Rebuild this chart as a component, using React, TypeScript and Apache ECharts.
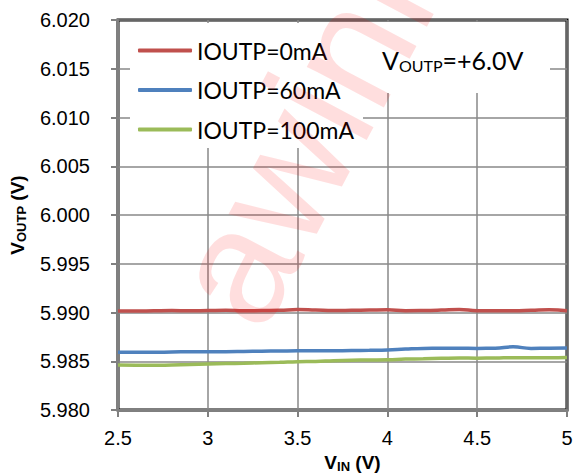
import React, { useEffect, useRef } from "react";
import * as echarts from "echarts";

const vin = [2.5, 2.6, 2.7, 2.8, 2.9, 3.0, 3.1, 3.2, 3.3, 3.4, 3.5, 3.6, 3.7, 3.8, 3.9, 4.0, 4.1, 4.2, 4.3, 4.4, 4.5, 4.6, 4.7, 4.8, 4.9, 5.0];
const iout0 = [5.99015, 5.99015, 5.99018, 5.9902, 5.99018, 5.9902, 5.99022, 5.99018, 5.9902, 5.99022, 5.9903, 5.99025, 5.9902, 5.99022, 5.99025, 5.99028, 5.99018, 5.9902, 5.99025, 5.99032, 5.99018, 5.99018, 5.99018, 5.99022, 5.99028, 5.99018];
const iout60 = [5.98592, 5.98592, 5.98592, 5.98595, 5.98597, 5.98598, 5.98598, 5.986, 5.98603, 5.98605, 5.98607, 5.98607, 5.98608, 5.9861, 5.98612, 5.98615, 5.98625, 5.98632, 5.98633, 5.98633, 5.98632, 5.98633, 5.98648, 5.98632, 5.98633, 5.98635];
const iout100 = [5.98462, 5.9846, 5.98458, 5.98462, 5.98466, 5.98472, 5.98476, 5.9848, 5.98485, 5.9849, 5.98496, 5.98498, 5.98505, 5.9851, 5.98513, 5.98516, 5.98522, 5.98526, 5.9853, 5.98533, 5.98532, 5.98533, 5.98537, 5.98535, 5.98535, 5.98538];
const seriesNames = ["IOUTP=0mA", "IOUTP=60mA", "IOUTP=100mA"];
const seriesColors = ["#C0504D", "#4F81BD", "#9BBB59"];

export default function App() {
  const ref = useRef<HTMLDivElement>(null);
  useEffect(() => {
    if (!ref.current) return;
    const chart = echarts.init(ref.current, undefined, { renderer: "svg" });
    const data = [iout0, iout60, iout100];
    const axisFont = { fontFamily: "Liberation Sans", fontSize: 20, color: "#000" };
    chart.setOption({
      animation: false,
      backgroundColor: "#fff",
      grid: {
        left: 118, right: 8, top: 20, bottom: 64,
        outerBoundsMode: "none",
        containLabel: false,
        show: true, borderColor: "#000", borderWidth: 3,
      },
      legend: {
        orient: "vertical",
        left: 130,
        top: 23,
        padding: [16, 9, 7, 8],
        backgroundColor: "#fff",
        itemWidth: 54,
        itemHeight: 4,
        itemGap: 16.5,
        icon: "roundRect",
        data: seriesNames,
        textStyle: { fontFamily: "Lato", fontSize: 23, color: "#000", lineHeight: 22 },
      },
      xAxis: {
        type: "value",
        min: 2.5,
        max: 5,
        interval: 0.5,
        axisLine: { lineStyle: { color: "#808080", width: 2 } },
        axisTick: { show: true, length: 7, lineStyle: { color: "#808080", width: 2 } },
        splitLine: { show: true, lineStyle: { color: "#888", width: 1.5 } },
        axisLabel: { ...axisFont, margin: 18 },
        name: "{v|V}{s|IN}{v| (V)}",
        nameLocation: "middle",
        nameGap: 40,
        nameTextStyle: {
          padding: [0, 0, 0, 20],
          rich: {
            v: { fontFamily: "Liberation Sans", fontWeight: "bold", fontSize: 19, color: "#000" },
            s: { fontFamily: "Liberation Sans", fontWeight: "bold", fontSize: 13, color: "#000", padding: [9, 0, 0, 0] },
          },
        },
      },
      yAxis: {
        type: "value",
        min: 5.98,
        max: 6.02,
        interval: 0.005,
        axisLine: { show: true, lineStyle: { color: "#808080", width: 2 } },
        axisTick: { show: true, length: 7, lineStyle: { color: "#808080", width: 2 } },
        splitLine: { show: true, lineStyle: { color: "#888", width: 1.5 } },
        axisLabel: { ...axisFont, margin: 28, formatter: (v: number) => v.toFixed(3) },
        name: "{v|V}{s|OUTP}{v| (V)}",
        nameLocation: "middle",
        nameRotate: 90,
        nameGap: 90,
        nameTextStyle: {
          rich: {
            v: { fontFamily: "Liberation Sans", fontWeight: "bold", fontSize: 19, color: "#000" },
            s: { fontFamily: "Liberation Sans", fontWeight: "bold", fontSize: 13, color: "#000", padding: [9, 0, 0, 0] },
          },
        },
      },
      graphic: [
        {
          type: "rect",
          z: 1,
          silent: true,
          shape: { x: 362, y: 22, width: 188, height: 71 },
          style: { fill: "#fff" },
        },
        {
          type: "text",
          z: 5,
          x: 382,
          y: 60,
          style: {
            text: "{a|V}{b|OUTP}{a|=+6.0V}",
            verticalAlign: "middle",
            rich: {
              a: { fontFamily: "Lato", fontSize: 25, fill: "#000", lineHeight: 30 },
              b: { fontFamily: "Lato", fontSize: 16, fill: "#000", padding: [10, 0, 0, 0] },
            },
          },
        },
        {
          type: "text",
          z: 100,
          silent: true,
          x: 285,
          y: 348,
          rotation: (62 * Math.PI) / 180,
          style: {
            text: "awinic",
            fontFamily: "Liberation Sans",
            fontSize: 165,
            fill: "rgba(255,0,0,0.13)",
            align: "left",
            verticalAlign: "bottom",
          },
        },
      ],
      series: data.map((d, i) => ({
        name: seriesNames[i],
        type: "line",
        showSymbol: false,
        symbol: "none",
        smooth: true,
        z: 3,
        data: vin.map((x, k) => [x, d[k]]),
        lineStyle: { color: seriesColors[i], width: 3.5 },
        itemStyle: { color: seriesColors[i] },
      })),
    });
    return () => chart.dispose();
  }, []);
  return <div ref={ref} style={{ width: 575, height: 474, position: "fixed", left: 0, top: 0 }} />;
}
